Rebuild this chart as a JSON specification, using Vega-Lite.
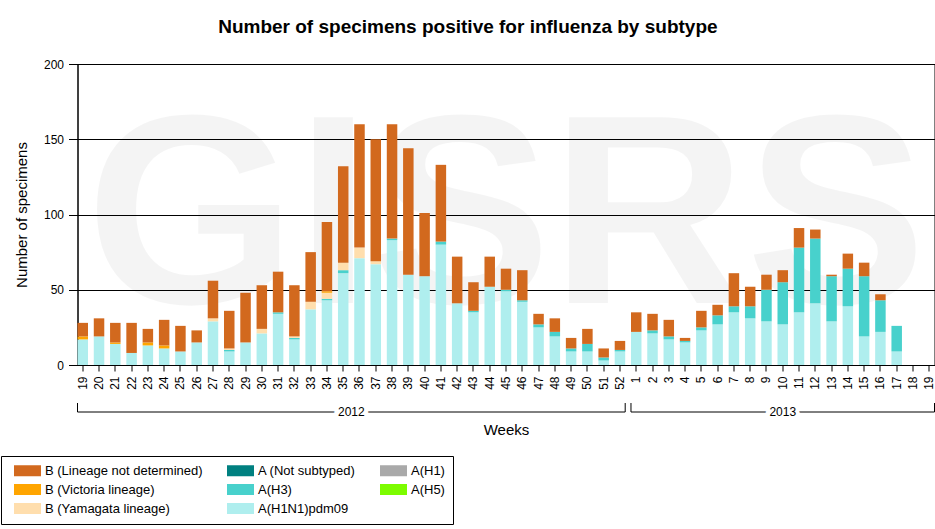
{
  "$schema": "https://vega.github.io/schema/vega-lite/v6.json",
  "description": "Number of specimens positive for influenza by subtype, weekly stacked bars 2012-2013",
  "padding": {"left": 0.5, "top": 17, "right": 1, "bottom": 5},
  "title": {
    "text": "Number of specimens positive for influenza by subtype",
    "fontSize": 19,
    "fontWeight": "bold",
    "color": "black",
    "anchor": "middle",
    "frame": "bounds",
    "offset": 21
  },
  "datasets": {
    "counts": [
      {"period": "2012-19", "h1n1": 17, "vic": 2, "nd": 9},
      {"period": "2012-20", "h1n1": 19, "nd": 12},
      {"period": "2012-21", "h1n1": 14, "vic": 1, "nd": 13},
      {"period": "2012-22", "h1n1": 8, "nd": 20},
      {"period": "2012-23", "h1n1": 13, "vic": 2, "nd": 9},
      {"period": "2012-24", "h1n1": 11, "vic": 2, "nd": 17},
      {"period": "2012-25", "h1n1": 9, "nd": 17},
      {"period": "2012-26", "h1n1": 15, "nd": 8},
      {"period": "2012-27", "h1n1": 29, "yam": 2, "nd": 25},
      {"period": "2012-28", "h1n1": 9, "h3": 1, "yam": 1, "nd": 25},
      {"period": "2012-29", "h1n1": 15, "nd": 33},
      {"period": "2012-30", "h1n1": 21, "yam": 3, "nd": 29},
      {"period": "2012-31", "h1n1": 34, "h3": 1, "nd": 27},
      {"period": "2012-32", "h1n1": 17, "h3": 1, "yam": 1, "nd": 34},
      {"period": "2012-33", "h1n1": 37, "yam": 5, "nd": 33},
      {"period": "2012-34", "h1n1": 43, "h3": 1, "yam": 4, "vic": 1, "nd": 46},
      {"period": "2012-35", "h1n1": 61, "h3": 2, "yam": 5, "nd": 64},
      {"period": "2012-36", "h1n1": 71, "yam": 7, "nd": 82},
      {"period": "2012-37", "h1n1": 67, "yam": 2, "nd": 81},
      {"period": "2012-38", "h1n1": 83, "h3": 1, "nd": 76},
      {"period": "2012-39", "h1n1": 60, "nd": 84},
      {"period": "2012-40", "h1n1": 59, "nd": 42},
      {"period": "2012-41", "h1n1": 80, "h3": 2, "nd": 51},
      {"period": "2012-42", "h1n1": 41, "nd": 31},
      {"period": "2012-43", "h1n1": 35, "h3": 1, "nd": 19},
      {"period": "2012-44", "h1n1": 52, "nd": 20},
      {"period": "2012-45", "h1n1": 49, "h3": 1, "nd": 14},
      {"period": "2012-46", "h1n1": 42, "h3": 1, "nd": 20},
      {"period": "2012-47", "h1n1": 25, "h3": 2, "nd": 7},
      {"period": "2012-48", "h1n1": 19, "h3": 3, "nd": 9},
      {"period": "2012-49", "h1n1": 9, "h3": 2, "nd": 7},
      {"period": "2012-50", "h1n1": 9, "h3": 5, "nd": 10},
      {"period": "2012-51", "h1n1": 3, "h3": 2, "nd": 6},
      {"period": "2012-52", "h1n1": 9, "h3": 1, "nd": 6},
      {"period": "2013-01", "h1n1": 22, "nd": 13},
      {"period": "2013-02", "h1n1": 21, "h3": 2, "nd": 11},
      {"period": "2013-03", "h1n1": 17, "h3": 2, "nd": 11},
      {"period": "2013-04", "h1n1": 15, "h3": 1, "nd": 2},
      {"period": "2013-05", "h1n1": 23, "h3": 2, "nd": 11},
      {"period": "2013-06", "h1n1": 27, "h3": 6, "nd": 7},
      {"period": "2013-07", "h1n1": 35, "h3": 4, "nd": 22},
      {"period": "2013-08", "h1n1": 31, "h3": 8, "nd": 13},
      {"period": "2013-09", "h1n1": 29, "h3": 21, "nd": 10},
      {"period": "2013-10", "h1n1": 27, "h3": 28, "nd": 8},
      {"period": "2013-11", "h1n1": 35, "h3": 43, "nd": 13},
      {"period": "2013-12", "h1n1": 41, "h3": 43, "nd": 6},
      {"period": "2013-13", "h1n1": 29, "h3": 30, "nd": 1},
      {"period": "2013-14", "h1n1": 39, "h3": 25, "nd": 10},
      {"period": "2013-15", "h1n1": 19, "h3": 40, "nd": 9},
      {"period": "2013-16", "h1n1": 22, "h3": 21, "nd": 4},
      {"period": "2013-17", "h1n1": 9, "h3": 17},
      {"period": "2013-18", "h1n1": 0},
      {"period": "2013-19", "h1n1": 0}
    ],
    "subtypes": [
      {"key": "h1n1", "subtype": "A(H1N1)pdm09", "rank": 1},
      {"key": "h3", "subtype": "A(H3)", "rank": 2},
      {"key": "yam", "subtype": "B (Yamagata lineage)", "rank": 4},
      {"key": "vic", "subtype": "B (Victoria lineage)", "rank": 5},
      {"key": "nd", "subtype": "B (Lineage not determined)", "rank": 6}
    ],
    "brackets": [
      {"year": "2012", "first": "2012-19", "last": "2012-52"},
      {"year": "2013", "first": "2013-01", "last": "2013-19"}
    ]
  },
  "spacing": 12,
  "resolve": {"scale": {"x": "shared"}},
  "vconcat": [
    {
      "width": 857,
      "height": 301,
      "layer": [
        {
          "data": {"values": [{"label": "GISRS"}]},
          "mark": {
            "type": "text",
            "font": "Liberation Sans",
            "fontWeight": "bold",
            "fontSize": 270,
            "fill": "black",
            "fillOpacity": 0.045,
            "align": "center",
            "baseline": "alphabetic"
          },
          "encoding": {
            "x": {"datum": "2012-45", "type": "ordinal"},
            "y": {"datum": 41.2, "type": "quantitative"},
            "text": {"field": "label"}
          }
        },
        {
          "data": {"name": "counts"},
          "transform": [
            {"fold": ["h1n1", "h3", "yam", "vic", "nd"], "as": ["key", "count"]},
            {"filter": "isValid(datum.count)"},
            {
              "lookup": "key",
              "from": {"data": {"name": "subtypes"}, "key": "key", "fields": ["subtype", "rank"]}
            }
          ],
          "mark": "bar",
          "encoding": {
            "x": {
              "field": "period",
              "type": "ordinal",
              "scale": {"paddingInner": 0.355, "paddingOuter": 0},
              "axis": {
                "title": null,
                "labelAngle": 270,
                "labelExpr": "toNumber(slice(datum.value, 5))",
                "labelOverlap": false,
                "tickSize": 6,
                "labelPadding": 5,
                "grid": false
              }
            },
            "y": {
              "field": "count",
              "type": "quantitative",
              "stack": "zero",
              "scale": {"domain": [0, 200], "nice": false},
              "axis": {
                "title": "Number of specimens",
                "values": [0, 50, 100, 150, 200],
                "grid": true,
                "gridColor": "black",
                "gridOpacity": 1,
                "tickSize": 9,
                "labelPadding": 5,
                "titlePadding": 14
              }
            },
            "color": {
              "field": "subtype",
              "type": "nominal",
              "scale": {
                "domain": [
                  "B (Lineage not determined)", "B (Victoria lineage)", "B (Yamagata lineage)",
                  "A (Not subtyped)", "A(H3)", "A(H1N1)pdm09",
                  "A(H1)", "A(H5)"
                ],
                "range": [
                  "#d2691e", "#ffa500", "#ffdead",
                  "#008080", "#48d1cc", "#afeeee",
                  "#a9a9a9", "#7cfc00"
                ]
              },
              "legend": {
                "orient": "none",
                "legendX": -76.5,
                "legendY": 392,
                "columns": 3,
                "title": null,
                "strokeColor": "black",
                "fillColor": "white",
                "padding": 8,
                "symbolType": "M-1,-0.41H1V0.41H-1Z",
                "symbolSize": 729,
                "symbolStrokeWidth": 0,
                "symbolOpacity": 1,
                "symbolOffset": 5,
                "clipHeight": 13,
                "labelFontSize": 13,
                "labelColor": "black",
                "labelOffset": 4,
                "columnPadding": 19,
                "rowPadding": 5
              }
            },
            "order": {"field": "rank", "type": "quantitative"}
          }
        }
      ]
    },
    {
      "width": 857,
      "height": 9,
      "view": {"stroke": null},
      "data": {"name": "brackets"},
      "layer": [
        {
          "mark": {"type": "rule", "color": "black"},
          "encoding": {
            "x": {
              "field": "first",
              "type": "ordinal",
              "bandPosition": 0,
              "axis": {"title": "Weeks", "labels": false, "ticks": false, "domain": false, "grid": false, "titlePadding": 10}
            },
            "x2": {"field": "last", "bandPosition": 1},
            "y": {"datum": 0, "type": "quantitative", "scale": {"domain": [0, 1]}, "axis": null}
          }
        },
        {
          "mark": {"type": "rule", "color": "black"},
          "encoding": {
            "x": {
              "field": "first",
              "type": "ordinal",
              "bandPosition": 0,
              "axis": {"title": "Weeks", "labels": false, "ticks": false, "domain": false, "grid": false, "titlePadding": 10}
            },
            "y": {"datum": 0, "type": "quantitative"},
            "y2": {"datum": 1}
          }
        },
        {
          "mark": {"type": "rule", "color": "black"},
          "encoding": {
            "x": {
              "field": "last",
              "type": "ordinal",
              "bandPosition": 1,
              "axis": {"title": "Weeks", "labels": false, "ticks": false, "domain": false, "grid": false, "titlePadding": 10}
            },
            "y": {"datum": 0, "type": "quantitative"},
            "y2": {"datum": 1}
          }
        },
        {
          "transform": [{"filter": "datum.year == '2012'"}],
          "mark": {"type": "text", "fontSize": 12, "fill": "white", "stroke": "white", "strokeWidth": 8, "baseline": "middle"},
          "encoding": {
            "x": {"datum": "2012-36", "type": "ordinal", "bandPosition": -0.274},
            "y": {"datum": 0, "type": "quantitative"},
            "text": {"field": "year"}
          }
        },
        {
          "transform": [{"filter": "datum.year == '2012'"}],
          "mark": {"type": "text", "fontSize": 12, "fill": "black", "baseline": "middle"},
          "encoding": {
            "x": {"datum": "2012-36", "type": "ordinal", "bandPosition": -0.274},
            "y": {"datum": 0, "type": "quantitative"},
            "text": {"field": "year"}
          }
        },
        {
          "transform": [{"filter": "datum.year == '2013'"}],
          "mark": {"type": "text", "fontSize": 12, "fill": "white", "stroke": "white", "strokeWidth": 8, "baseline": "middle"},
          "encoding": {
            "x": {"datum": "2013-10", "type": "ordinal", "bandPosition": 0.5},
            "y": {"datum": 0, "type": "quantitative"},
            "text": {"field": "year"}
          }
        },
        {
          "transform": [{"filter": "datum.year == '2013'"}],
          "mark": {"type": "text", "fontSize": 12, "fill": "black", "baseline": "middle"},
          "encoding": {
            "x": {"datum": "2013-10", "type": "ordinal", "bandPosition": 0.5},
            "y": {"datum": 0, "type": "quantitative"},
            "text": {"field": "year"}
          }
        }
      ]
    }
  ],
  "config": {
    "font": "Liberation Sans",
    "view": {"stroke": "black", "strokeWidth": 1},
    "axis": {
      "labelFontSize": 12,
      "labelColor": "black",
      "tickColor": "black",
      "domainColor": "black",
      "titleColor": "black",
      "titleFontSize": 15,
      "titleFontWeight": "normal"
    }
  }
}
